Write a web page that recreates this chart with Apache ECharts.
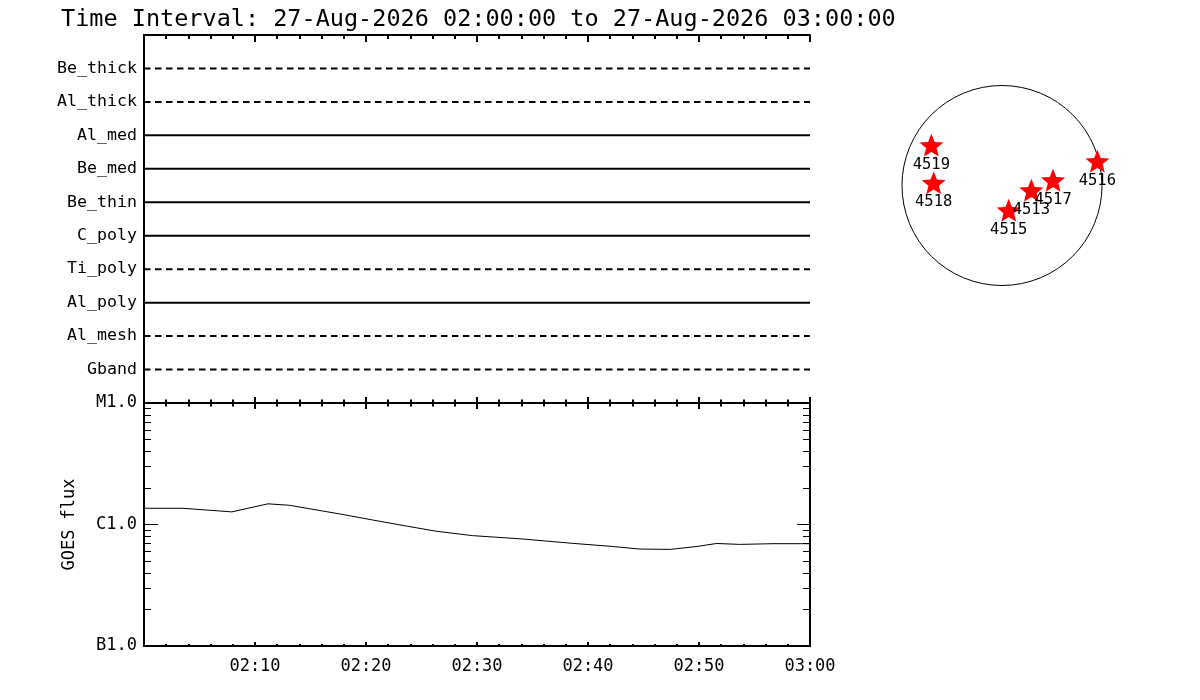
<!DOCTYPE html>
<html>
<head>
<meta charset="utf-8">
<script src="https://cdn.jsdelivr.net/npm/echarts@6/dist/echarts.min.js"></script>
<style>html,body{margin:0;padding:0;background:#fff;}#c{width:1200px;height:700px;}</style>
</head>
<body>
<div id="c"></div>
<script>
// ---- data ----
const titleText = 'Time Interval: 27-Aug-2026 02:00:00 to 27-Aug-2026 03:00:00';
const channels = ['Be_thick','Al_thick','Al_med','Be_med','Be_thin','C_poly','Ti_poly','Al_poly','Al_mesh','Gband'];
const timeTickLabels = ['02:10','02:20','02:30','02:40','02:50','03:00'];
const goesTimes = ['02:00:00','02:03:30','02:07:55','02:11:10','02:13:05','02:17:40','02:20:35','02:23:40','02:26:20','02:29:35','02:34:05','02:38:35','02:42:10','02:44:40','02:47:25','02:49:50','02:51:35','02:53:40','02:56:40','03:00:00'];
const goesFlux = [1.36e-6,1.36e-6,1.27e-6,1.48e-6,1.44e-6,1.22e-6,1.09e-6,9.7e-7,8.8e-7,8.1e-7,7.6e-7,7.0e-7,6.6e-7,6.28e-7,6.24e-7,6.6e-7,6.98e-7,6.86e-7,6.95e-7,6.95e-7];
const goesClassLabels = {'1e-7':'B1.0','1e-6':'C1.0','1e-5':'M1.0'};
const regionIds = ['4519','4518','4515','4513','4517','4516'];
const regionX = [-671,-649,64,279,485,906];
const regionY = [383,25,-235,-45,50,231];

// ---- styling ----
const dashedChannels = ['Be_thick','Al_thick','Ti_poly','Al_mesh','Gband'];
const FONT = 'DejaVu Sans Mono';
function toMin(t){const p=t.split(':').map(Number);return (p[0]-2)*60+p[1]+p[2]/60;}
const minorLog = [];
[1e-7,1e-6].forEach(d=>{for(let k=2;k<=9;k++) minorLog.push(+(k*d).toPrecision(3));});

function xAx(grid, pos, majLen, minLen, showLabel){
  return {
    type:'value', gridIndex:grid, position:pos, min:0, max:60, interval:10,
    axisLine:{show:true,onZero:false,lineStyle:{color:'#000',width:2}},
    axisTick:{show:true,inside:true,length:majLen,lineStyle:{color:'#000',width:2}},
    minorTick:{show:true,splitNumber:5,length:minLen,lineStyle:{color:'#000',width:2}},
    splitLine:{show:false}, minorSplitLine:{show:false},
    axisLabel:{show:showLabel,margin:12,color:'#000',fontFamily:FONT,fontSize:17,
      formatter:function(v){const i=Math.round(v/10)-1;return (i>=0&&i<timeTickLabels.length)?timeTickLabels[i]:'';}}
  };
}
function logAx(pos, ticks, len, showLine, showLabel, extra){
  return Object.assign({
    type:'log', logBase:10, gridIndex:1, position:pos, min:1e-7, max:1e-5,
    axisLine:{show:showLine,lineStyle:{color:'#000',width:2}},
    axisTick:{show:true,inside:true,length:len,customValues:ticks,lineStyle:{color:'#000',width:1}},
    splitLine:{show:false},
    axisLabel:{show:showLabel,margin:7,color:'#000',fontFamily:FONT,fontSize:17,
      formatter:function(v){const k=Number(v).toExponential(0).replace('+','');return goesClassLabels[k]||'';}}
  }, extra||{});
}

const lineSeries = channels.map((name,i)=>({
  type:'line', name:name, xAxisIndex:0, yAxisIndex:0, symbol:'none', silent:true,
  lineStyle:{color:'#000',width:2,type: dashedChannels.indexOf(name)>=0 ? [6.5,4.5] : 'solid'},
  data:[[0,i+1],[60,i+1]]
}));

const option = {
  backgroundColor:'#fff',
  animation:false,
  title:{text:titleText,left:56,top:3,textStyle:{fontFamily:FONT,fontSize:23.5,fontWeight:'normal',color:'#000'}},
  grid:[
    {left:144,top:35,width:666,height:368},
    {left:144,top:403,width:666,height:243},
    {left:902,top:85.5,width:200,height:200}
  ],
  polar:{center:[1002,185.5],radius:100},
  angleAxis:{axisLine:{show:true,lineStyle:{color:'#000',width:1}},axisTick:{show:false},axisLabel:{show:false},splitLine:{show:false}},
  radiusAxis:{show:false,min:0,max:1},
  xAxis:[
    xAx(0,'top',7,4,false),
    xAx(0,'bottom',6,3.5,false),
    xAx(1,'top',6,3.5,false),
    xAx(1,'bottom',4,2,true),
    {type:'value',gridIndex:2,min:-950,max:950,show:false}
  ],
  yAxis:[
    {type:'value',gridIndex:0,position:'left',min:0,max:11,interval:1,inverse:true,
      axisLine:{show:true,lineStyle:{color:'#000',width:2}},axisTick:{show:false},splitLine:{show:false},
      axisLabel:{margin:7,color:'#000',fontFamily:FONT,fontSize:16.6,
        formatter:function(v){return (v>=1&&v<=channels.length)?channels[v-1]:'';}}},
    {type:'value',gridIndex:0,position:'right',min:0,max:11,
      axisLine:{show:true,lineStyle:{color:'#000',width:2}},axisTick:{show:false},axisLabel:{show:false},splitLine:{show:false}},
    logAx('left',[1e-7,1e-6,1e-5],14,true,true,{name:'GOES flux',nameLocation:'middle',nameGap:66,nameRotate:90,
      nameTextStyle:{fontFamily:FONT,fontSize:17,color:'#000'}}),
    logAx('left',minorLog,7,false,false),
    logAx('right',[1e-7,1e-6,1e-5],13,true,false),
    logAx('right',minorLog,7,false,false),
    {type:'value',gridIndex:2,min:-950,max:950,show:false}
  ],
  series: lineSeries.concat([
    {type:'line',name:'GOES',xAxisIndex:3,yAxisIndex:2,symbol:'none',silent:true,
      lineStyle:{color:'#000',width:1},
      data:goesTimes.map((t,i)=>[toMin(t),goesFlux[i]])},
    {type:'scatter',coordinateSystem:'polar',data:[]},
    {type:'scatter',xAxisIndex:4,yAxisIndex:6,silent:true,
      symbol:'path://M50,0 L62.9,32.3 L97.6,34.5 L70.9,56.8 L79.4,90.5 L50,72 L20.6,90.5 L29.1,56.8 L2.4,34.5 L37.1,32.3 Z',
      symbolSize:24,symbolKeepAspect:true,itemStyle:{color:'#ff0000',opacity:1},
      label:{show:true,position:'bottom',distance:0,color:'#000',opacity:1,fontFamily:FONT,fontSize:15.5,
        formatter:function(p){return p.data[2];}},
      data:regionIds.map((id,i)=>[regionX[i],regionY[i],id])}
  ])
};
const chart = echarts.init(document.getElementById('c'),null,{renderer:'canvas'});
chart.setOption(option);
</script>
</body>
</html>
